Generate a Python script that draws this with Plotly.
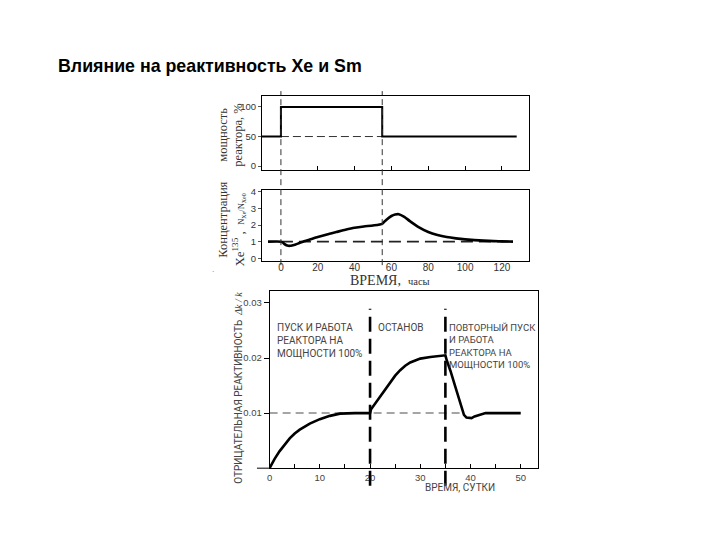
import plotly.graph_objects as go

# ---------------- data ----------------
# top panel: reactor power, %
power_hours = [-10.3, 0, 0, 55, 55, 128]
power_pct = [50, 50, 100, 100, 50, 50]
power_ref_hours = [0, 55]
power_ref_pct = [50, 50]
power_xticks = [20, 40, 60, 80, 100, 120]
power_yticks = [0, 50, 100]

# middle panel: Xe-135 concentration, N_Xe/N_Xe0
xe_hours = [-7, 0, 1, 2, 3, 4, 5, 6, 8, 10, 12, 15, 20, 25, 30, 35, 40, 45, 50, 55,
            57, 60, 62, 64, 67, 70, 75, 80, 85, 90, 95, 100, 110, 120, 126]
xe_conc = [1.0, 1.0, 0.95, 0.85, 0.78, 0.75, 0.75, 0.77, 0.83, 0.92, 1.0, 1.1, 1.28, 1.44,
           1.58, 1.72, 1.84, 1.92, 1.98, 2.08,
           2.3, 2.55, 2.64, 2.66, 2.5, 2.24, 1.86, 1.58, 1.4, 1.28, 1.2, 1.14, 1.06, 1.02, 1.0]
xe_ref_hours = [0, 126]
xe_ref_conc = [1, 1]
xe_xticks = [0, 20, 40, 60, 80, 100, 120]
xe_yticks = [0, 1, 2, 3, 4]

# bottom panel: negative reactivity dk/k, days
days = [0, 1, 2, 3, 4, 5, 6, 8, 10, 12, 14, 17, 20, 20.2, 21, 22, 23, 24, 25, 26, 27, 28,
        30, 32, 34, 35, 35.3, 36, 37, 38, 38.7, 39.2, 40.2, 40.8, 41.5, 42.3, 43, 50]
reactivity = [0, 0.0017, 0.0031, 0.0043, 0.0054, 0.0063, 0.0070, 0.0081, 0.0089, 0.0095,
              0.0099, 0.0100, 0.0100, 0.0107, 0.0117, 0.0130, 0.0143, 0.0156, 0.0168,
              0.0178, 0.0186, 0.0192, 0.0199, 0.0202, 0.0204, 0.0205, 0.0195, 0.0177,
              0.0147, 0.0117, 0.0097, 0.0092, 0.0091, 0.0094, 0.0096, 0.0099, 0.0100, 0.0100]
react_ref_days = [0, 38.5]
react_ref = [0.01, 0.01]
phase_days = [20, 35]
day_ticks = [0, 10, 20, 30, 40, 50]
day_minor_ticks = [5, 15, 25, 35, 45]
react_yticks = [0.01, 0.02, 0.03]
react_yticktext = ["0.01", "0.02", "0.03"]

W, H = 720, 540
OFF = 8  # page body margin


def px(x):
    return (x - OFF) / W


def py(y):
    return 1 - (y - OFF) / H


fig = go.Figure()

# top panel
fig.add_trace(go.Scatter(x=power_ref_hours, y=power_ref_pct, mode="lines",
                         line=dict(color="#333", width=1, dash="8px,4px"),
                         xaxis="x", yaxis="y", showlegend=False))
fig.add_trace(go.Scatter(x=power_hours, y=power_pct, mode="lines",
                         line=dict(color="black", width=2),
                         xaxis="x", yaxis="y", showlegend=False))
# middle panel
fig.add_trace(go.Scatter(x=xe_ref_hours, y=xe_ref_conc, mode="lines",
                         line=dict(color="#222", width=1.6, dash="12px,6px"),
                         xaxis="x2", yaxis="y2", showlegend=False))
fig.add_trace(go.Scatter(x=xe_hours, y=xe_conc, mode="lines",
                         line=dict(color="black", width=2.6, shape="spline", smoothing=0.6),
                         xaxis="x2", yaxis="y2", showlegend=False))
# bottom panel
fig.add_trace(go.Scatter(x=react_ref_days, y=react_ref, mode="lines",
                         line=dict(color="#888", width=1.5, dash="8px,5px"),
                         xaxis="x3", yaxis="y3", showlegend=False))
fig.add_trace(go.Scatter(x=days, y=reactivity, mode="lines",
                         line=dict(color="black", width=2.6),
                         xaxis="x3", yaxis="y3", showlegend=False))

tickf = dict(family="Arial, Liberation Sans, sans-serif", size=9.5, color="#333")

axis_common = dict(showgrid=False, zeroline=False, showline=True, linecolor="black",
                   linewidth=1, mirror=True)

fig.update_layout(
    width=W, height=H, autosize=False,
    margin=dict(l=0, r=0, t=0, b=0),
    paper_bgcolor="white", plot_bgcolor="white",
    showlegend=False,
    xaxis=dict(domain=[px(260), px(528)], range=[-10.3, 134.6], anchor="y",
               tickvals=power_xticks, showticklabels=False, ticks="inside",
               ticklen=4, tickcolor="black", **axis_common),
    yaxis=dict(domain=[py(168), py(93)], range=[-7, 118.5], anchor="x",
               tickvals=power_yticks, ticks="outside", ticklen=3, tickcolor="#555",
               tickfont=tickf, **axis_common),
    xaxis2=dict(domain=[px(260), px(528)], range=[-10.3, 134.6], anchor="y2",
                tickvals=xe_xticks, ticks="", ticklabelstandoff=-3,
                tickfont=dict(tickf, size=10), **axis_common),
    yaxis2=dict(domain=[py(260), py(188)], range=[-0.18, 4.12], anchor="x2",
                tickvals=xe_yticks, ticks="outside", ticklen=3, tickcolor="#555",
                tickfont=tickf, **axis_common),
    xaxis3=dict(domain=[px(267.7), px(537)], range=[0, 53.4], anchor="y3",
                tickvals=day_ticks, ticks="inside", ticklen=4, tickcolor="black",
                minor=dict(tickvals=day_minor_ticks, ticks="inside", ticklen=4,
                           tickcolor="black"),
                tickfont=dict(tickf, color="#444"), **axis_common),
    yaxis3=dict(domain=[py(469.3), py(290)], range=[0, 0.0322], anchor="x3",
                tickvals=react_yticks, ticktext=react_yticktext, ticks="outside",
                ticklen=5, tickcolor="black", tickfont=dict(tickf, color="#444"),
                **axis_common),
)

shapes = []
for h in power_ref_hours:
    shapes.append(dict(type="line", xref="x", yref="paper", x0=h, x1=h,
                       y0=py(264), y1=py(88),
                       line=dict(color="#333", width=1, dash="6px,4px")))
for d in phase_days:
    shapes.append(dict(type="line", xref="x3", yref="paper", x0=d, x1=d,
                       y0=py(487), y1=py(308),
                       line=dict(color="black", width=2.6, dash="15px,7px")))
# x-axis line extends a little to the left of the y axis
shapes.append(dict(type="line", xref="paper", yref="paper", x0=px(255), x1=px(268),
                   y0=py(469.3), y1=py(469.3), line=dict(color="black", width=1)))
fig.update_layout(shapes=shapes)

serif = "Liberation Serif, DejaVu Serif, serif"
narrow = "Liberation Sans Narrow, Roboto, Arial, sans-serif"

ann = [
    dict(text="<b>Влияние на реактивность Xe и Sm</b>", x=px(53), y=py(63),
         xanchor="left", yanchor="middle",
         font=dict(family="Arial, Liberation Sans, sans-serif", size=17.8, color="black")),
    # top y title
    dict(text="мощность", x=px(221), y=py(132), textangle=-90,
         xanchor="center", yanchor="middle",
         font=dict(family=serif, size=12.5, color="#333")),
    dict(text="реактора, %", x=px(236), y=py(133), textangle=-90,
         xanchor="center", yanchor="middle",
         font=dict(family=serif, size=12.5, color="#333")),
    # middle y title
    dict(text="Концентрация", x=px(221), y=py(218), textangle=-90,
         xanchor="center", yanchor="middle",
         font=dict(family=serif, size=12.5, color="#333")),
    dict(text="Xe<sup>135</sup> ,  <span style='font-size:8.5px'>N<sub>Xe</sub>/N<sub>Xe0</sub></span>",
         x=px(236), y=py(229), textangle=-90, xanchor="center", yanchor="middle",
         font=dict(family=serif, size=13, color="#333")),
    # middle x title
    dict(text="ВРЕМЯ,  <span style='font-size:10.5px'>часы</span>", x=px(389), y=py(280),
         xanchor="center", yanchor="middle",
         font=dict(family=serif, size=14, color="#333")),
    # stray mark
    dict(text=".", x=px(211), y=py(268), xanchor="center", yanchor="middle",
         font=dict(family=serif, size=9, color="#777")),
    # bottom y title
    dict(text="ОТРИЦАТЕЛЬНАЯ РЕАКТИВНОСТЬ  <i><span style='font-family:Liberation Serif, serif'>Δk / k</span></i>",
         x=px(237), y=py(388), textangle=-90, xanchor="center", yanchor="middle",
         font=dict(family=narrow, size=10, color="#444")),
    # bottom x title
    dict(text="ВРЕМЯ, СУТКИ", x=px(459), y=py(489), xanchor="center", yanchor="middle",
         font=dict(family=narrow, size=10, color="#444")),
    dict(text="ПУСК И РАБОТА<br>РЕАКТОРА НА<br>МОЩНОСТИ 100%", x=px(273), y=py(319),
         xanchor="left", yanchor="top", align="left",
         font=dict(family=narrow, size=10, color="#444")),
    dict(text="ОСТАНОВ", x=px(375), y=py(319), xanchor="left", yanchor="top", align="left",
         font=dict(family=narrow, size=10, color="#444")),
    dict(text="ПОВТОРНЫЙ ПУСК<br>И РАБОТА<br>РЕАКТОРА НА<br>МОЩНОСТИ 100%", x=px(446),
         y=py(319), xanchor="left", yanchor="top", align="left",
         font=dict(family=narrow, size=9.5, color="#444")),
]
for a in ann:
    a.update(xref="paper", yref="paper", showarrow=False)
fig.update_layout(annotations=ann)

fig.write_html("out.html")
